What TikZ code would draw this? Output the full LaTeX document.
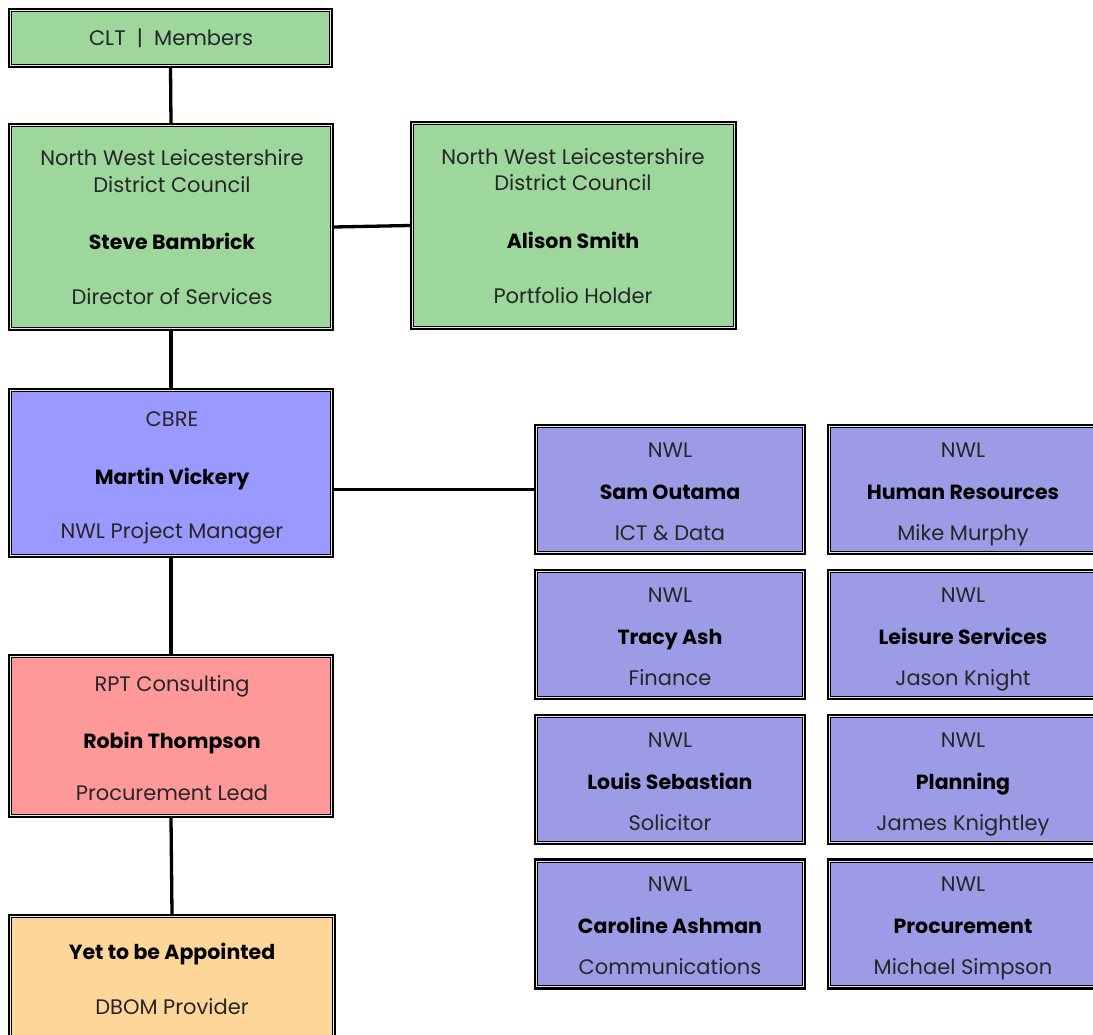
\documentclass[tikz,border=0pt]{standalone}
\usepackage{fontspec}
\setmainfont{Poppins}
\definecolor{gbox}{HTML}{9ED79C}
\definecolor{bbox}{HTML}{9999FF}
\definecolor{nbox}{HTML}{9C9CE6}
\definecolor{rbox}{HTML}{FF9999}
\definecolor{obox}{HTML}{FFD699}
\definecolor{gap}{HTML}{E8E8E8}
\tikzset{
  box/.style={draw=black, line width=2.2pt, inner sep=0pt,
    path picture={
      \draw[gap, line width=1.3pt] ([shift={(1.75pt,1.75pt)}]path picture bounding box.south west) rectangle ([shift={(-1.75pt,-1.75pt)}]path picture bounding box.north east);
      \draw[black, line width=0.9pt] ([shift={(2.85pt,2.85pt)}]path picture bounding box.south west) rectangle ([shift={(-2.85pt,-2.85pt)}]path picture bounding box.north east);
    }},
  txt/.style={inner sep=0pt, text height=20pt, text depth=4pt, font=\fontsize{21}{24}\selectfont, text=black!85},
  btxt/.style={txt, font=\fontsize{20.5}{24}\selectfont\bfseries, text=black},
  link/.style={line width=3.3pt, black},
}
\begin{document}
\begin{tikzpicture}[x=1pt,y=-1pt]
\useasboundingbox (0,0) rectangle (1093,1035);
\fill[white] (0,0) rectangle (1093,1035);
% boxes
\node[box, fill=gbox, minimum width=323pt, minimum height=58pt] (clt) at (170.5,38) {};
\node[box, fill=gbox, minimum width=324pt, minimum height=206pt] (steve) at (171,227) {};
\node[box, fill=gbox, minimum width=325pt, minimum height=207pt] (alison) at (573.5,225.5) {};
\node[box, fill=bbox, minimum width=324pt, minimum height=168pt] (martin) at (171,473) {};
\node[box, fill=rbox, minimum width=324pt, minimum height=162pt] (robin) at (171,736) {};
\node[box, fill=obox, minimum width=326pt, minimum height=129pt] (yet) at (172,979.5) {};
% NWL grid
\foreach \n/\cx/\cy in {sam/670/489.5, hr/963/489.5, tracy/670/634.5, leis/963/634.5, louis/670/779.5, plan/963/779.5, caro/670/924, proc/963/924}{
  \node[box, fill=nbox, minimum width=270pt, minimum height=129pt] (\n) at (\cx,\cy) {};
}
% texts
\node[txt] (t-clt) at (171,38) {CLT\ \ |\ \ Members};
\node[txt] (t-s1) at (172,158) {North West Leicestershire};
\node[txt] (t-s2) at (172,185) {District Council};
\node[btxt] (t-s3) at (172,242) {Steve Bambrick};
\node[txt] (t-s4) at (172,297) {Director of Services};
\node[txt] (t-a1) at (573,157) {North West Leicestershire};
\node[txt] (t-a2) at (573,183) {District Council};
\node[btxt] (t-a3) at (573,241) {Alison Smith};
\node[txt] (t-a4) at (573,296) {Portfolio Holder};
\node[txt] (t-m1) at (172,418) {CBRE};
\node[btxt] (t-m2) at (172,476) {Martin Vickery};
\node[txt] (t-m3) at (172,530) {NWL Project Manager};
\node[txt] (t-r1) at (172,683) {RPT Consulting};
\node[btxt] (t-r2) at (172,740) {Robin Thompson};
\node[txt] (t-r3) at (172,792) {Procurement Lead};
\node[btxt] (t-y1) at (172,951) {Yet to be Appointed};
\node[txt] (t-y2) at (172,1006) {DBOM Provider};
\foreach \n/\cx/\top/\b/\r in {
  sam/670/424/Sam Outama/ICT \& Data,
  hr/963/424/Human Resources/Mike Murphy,
  tracy/670/569/Tracy Ash/Finance,
  leis/963/569/Leisure Services/Jason Knight,
  louis/670/714/Louis Sebastian/Solicitor,
  plan/963/714/Planning/James Knightley,
  caro/670/858/Caroline Ashman/Communications,
  proc/963/858/Procurement/Michael Simpson}{
  \node[txt] (\n-1) at (\cx,\top+25) {NWL};
  \node[btxt] (\n-2) at (\cx,\top+67) {\b};
  \node[txt] (\n-3) at (\cx,\top+108) {\r};
}
% connectors
\draw[link] (clt.south) -- (steve.north);
\draw[link] (steve.east) -- (alison.west);
\draw[link] (steve.south) -- (martin.north);
\draw[link] (sam.west) -- (martin.east |- sam.west);
\draw[link] (martin.south) -- (robin.north);
\draw[link] (robin.south) -- (yet.north);
\end{tikzpicture}
\end{document}
